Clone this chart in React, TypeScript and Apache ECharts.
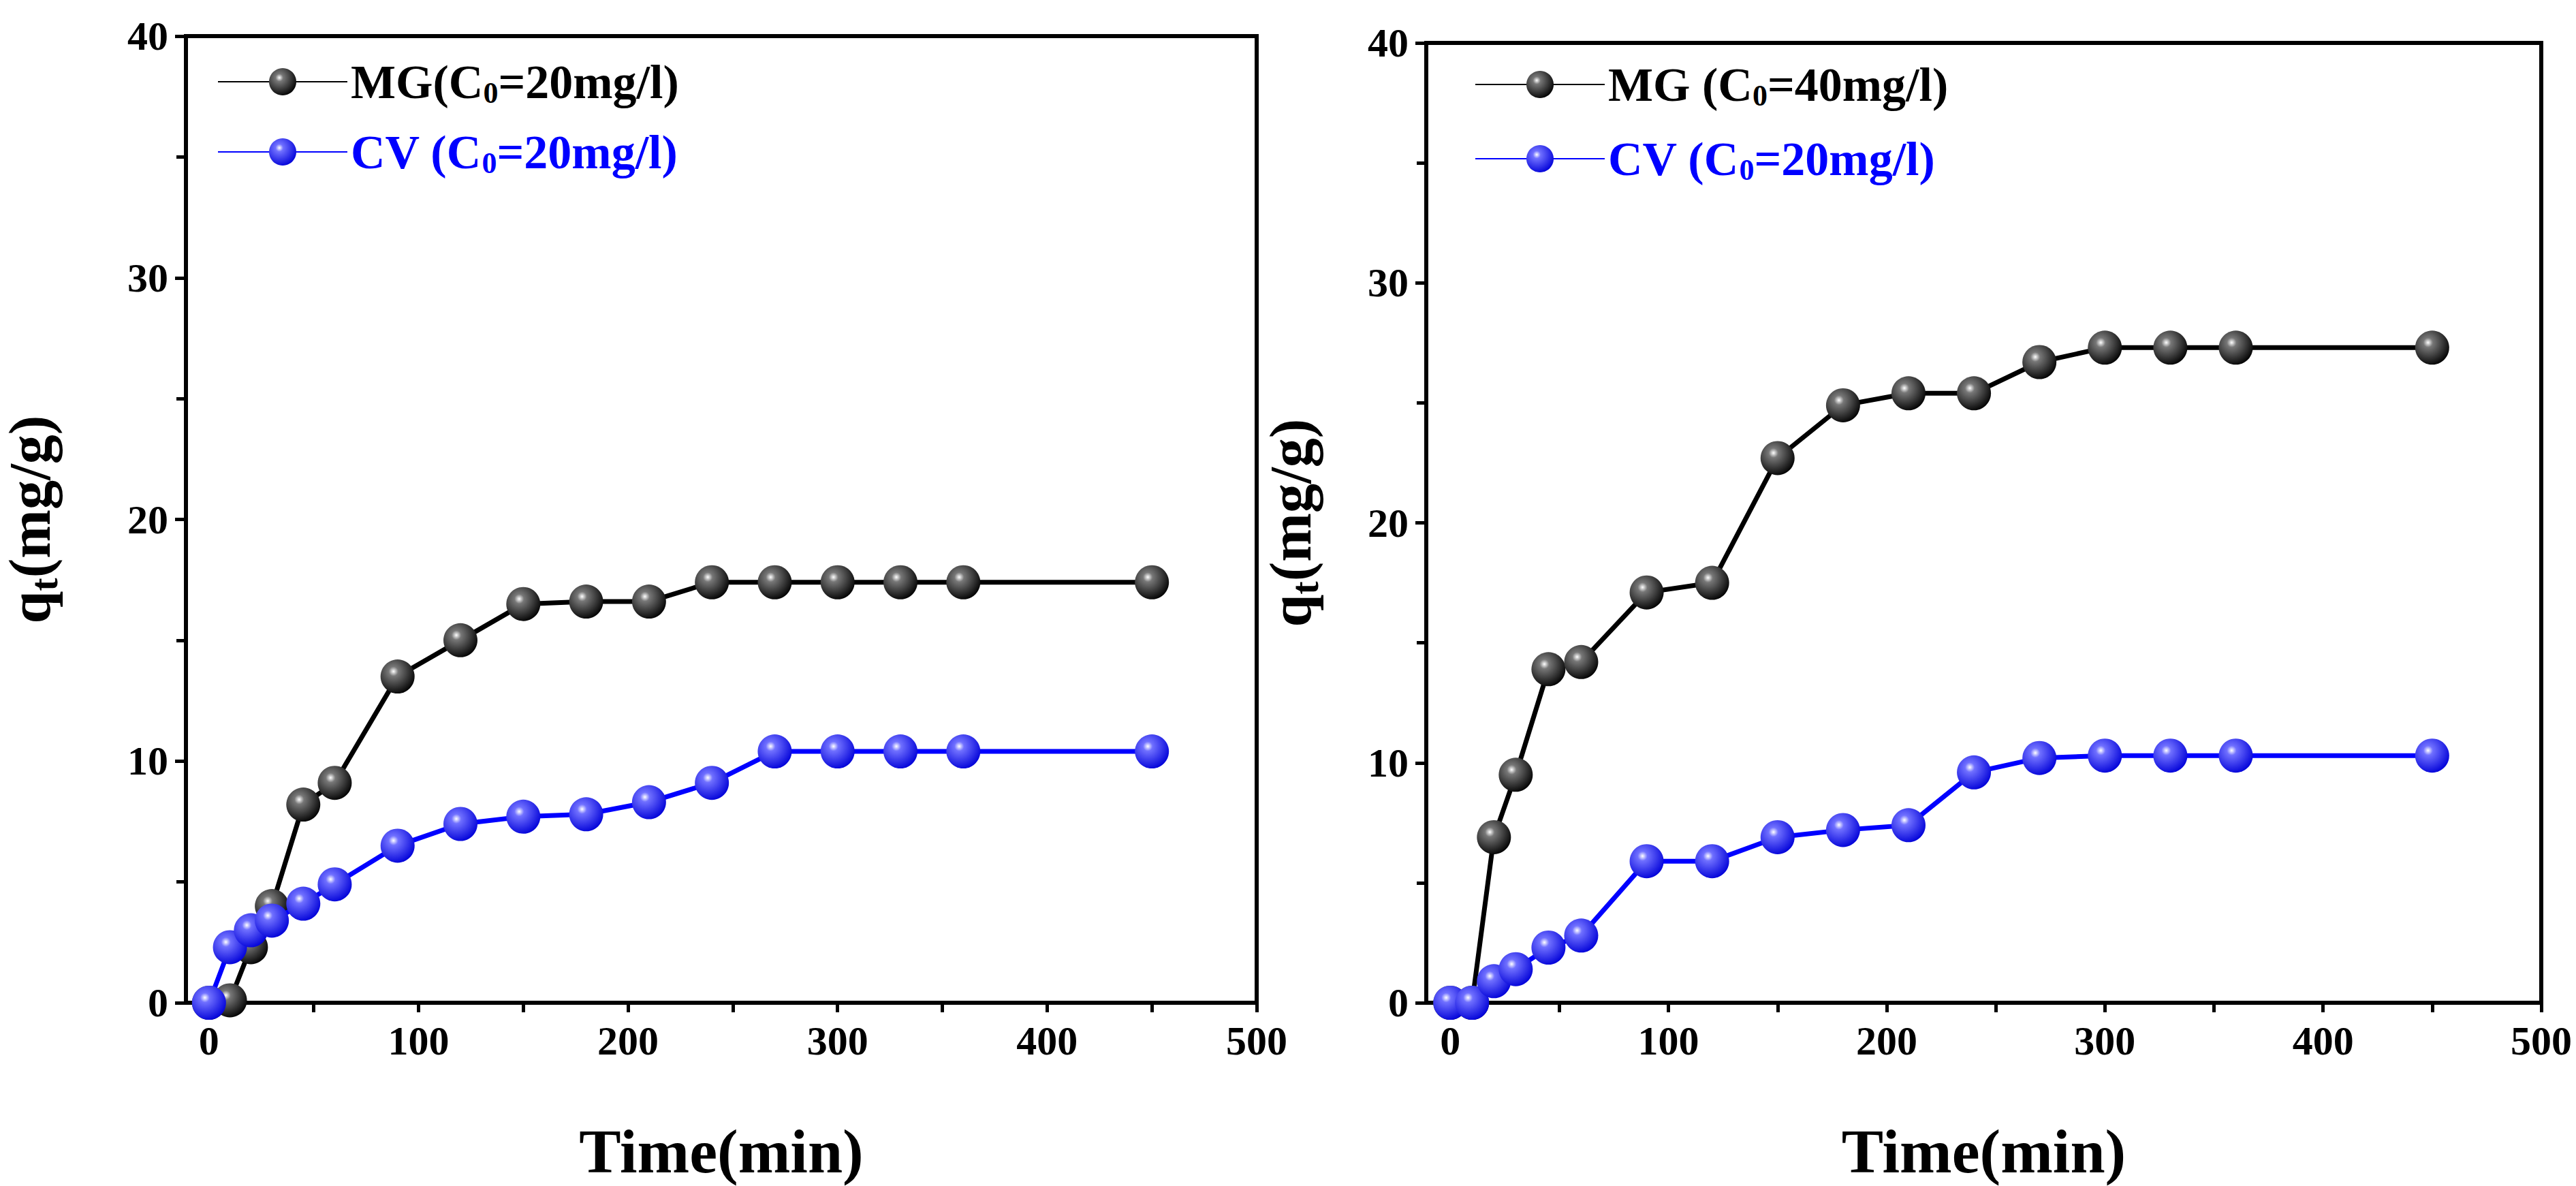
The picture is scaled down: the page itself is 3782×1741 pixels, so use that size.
import React, { useEffect, useRef } from 'react';
import * as echarts from 'echarts';

const timeMin = [0, 10, 20, 30, 45, 60, 90, 120, 150, 180, 210, 240, 270, 300, 330, 360, 450];
const mg20 = [0, 0.1, 2.3, 4.0, 8.2, 9.1, 13.5, 15.0, 16.5, 16.6, 16.6, 17.4, 17.4, 17.4, 17.4, 17.4, 17.4];
const cv20a = [0, 2.3, 3.0, 3.4, 4.1, 4.9, 6.5, 7.4, 7.7, 7.8, 8.3, 9.1, 10.4, 10.4, 10.4, 10.4, 10.4];
const mg40 = [0, 0, 6.9, 9.5, 13.9, 14.2, 17.1, 17.5, 22.7, 24.9, 25.4, 25.4, 26.7, 27.3, 27.3, 27.3, 27.3];
const cv20b = [0, 0, 0.9, 1.4, 2.3, 2.8, 5.9, 5.9, 6.9, 7.2, 7.4, 9.6, 10.2, 10.3, 10.3, 10.3, 10.3];
const xLabels = [0, 100, 200, 300, 400, 500];
const xTicks = [0, 50, 100, 150, 200, 250, 300, 350, 400, 450, 500];
const legendLeft = ['MG(C{s|0}=20mg/l)', 'CV (C{s|0}=20mg/l)'];
const legendRight = ['MG (C{s|0}=40mg/l)', 'CV (C{s|0}=20mg/l)'];

const FONT = '"Liberation Serif", "Times New Roman", serif';

const ball = (mid: string, dark: string) =>
  new echarts.graphic.RadialGradient(0.38, 0.35, 0.7, [
    { offset: 0, color: '#ffffff' },
    { offset: 0.2, color: mid },
    { offset: 1, color: dark },
  ]);

const pair = (xs: number[], ys: number[]) => xs.map((x, i) => [x, ys[i]]);

export default function App() {
  const ref = useRef<HTMLDivElement>(null);

  useEffect(() => {
    document.body.style.margin = '0';
    if (!ref.current) return;
    const chart = echarts.init(ref.current, null, { renderer: 'svg' });

    const grids = [
      { left: 266, right: 1937, top: 53, bottom: 248 },
      { left: 2094, right: 51, top: 63, bottom: 234 },
    ];
    const nameGaps = [180, 150];

    const xAxis = grids.map((_, i) => ({
      type: 'value' as const,
      gridIndex: i,
      min: -11,
      max: 500,
      name: 'Time(min)',
      nameLocation: 'middle' as const,
      nameGap: 172,
      nameTextStyle: { fontFamily: FONT, fontWeight: 'bold', fontSize: 92, color: '#000' },
      axisLine: { show: true, onZero: false, lineStyle: { color: '#000', width: 6 } },
      axisTick: { show: true, length: 14, customValues: xTicks, lineStyle: { width: 5, color: '#000' } },
      axisLabel: {
        fontFamily: FONT, fontWeight: 'bold', fontSize: 60, color: '#000', margin: 26,
        customValues: xLabels,
      },
      splitLine: { show: false },
    }));

    const yAxis = grids.map((_, i) => ({
      type: 'value' as const,
      gridIndex: i,
      min: 0,
      max: 40,
      interval: 10,
      name: '{q|q}{t|t}{q|(mg/g)}',
      nameLocation: 'middle' as const,
      nameGap: nameGaps[i],
      nameTextStyle: {
        rich: {
          q: { fontFamily: FONT, fontWeight: 'bold', fontSize: 86, color: '#000' },
          t: { fontFamily: FONT, fontWeight: 'bold', fontSize: 58, color: '#000', padding: [40, 0, 0, 0] },
        },
      },
      axisLine: { show: true, onZero: false, lineStyle: { color: '#000', width: 6 } },
      axisTick: { show: true, length: 16, lineStyle: { width: 5, color: '#000' } },
      minorTick: { show: true, splitNumber: 2, length: 14, lineStyle: { width: 5, color: '#000' } },
      axisLabel: { fontFamily: FONT, fontWeight: 'bold', fontSize: 60, color: '#000', margin: 26 },
      splitLine: { show: false },
    }));

    const mkSeries = (name: string, i: number, data: number[], color: string, mid: string, dark: string) => ({
      name,
      type: 'line' as const,
      xAxisIndex: i,
      yAxisIndex: i,
      data: pair(timeMin, data),
      symbol: 'circle',
      symbolSize: 50,
      lineStyle: { color, width: 7 },
      itemStyle: { color: ball(mid, dark), borderWidth: 0 },
      z: color === '#0000ff' ? 3 : 2,
    });

    const legendText = (color: string) => ({
      fontFamily: FONT,
      fontWeight: 'bold' as const,
      fontSize: 70,
      color,
      rich: {
        s: { fontFamily: FONT, fontWeight: 'bold', fontSize: 44, color, padding: [32, 0, 0, 0] },
      },
    });

    chart.setOption({
      animation: false,
      backgroundColor: '#fff',
      grid: grids.map((g) => ({ ...g, show: true, borderColor: '#000', borderWidth: 6 })),
      xAxis,
      yAxis,
      legend: [
        {
          left: 314, top: 80, orient: 'vertical', itemGap: 30, itemWidth: 190, itemHeight: 50,
          data: [
            { name: legendLeft[0], textStyle: legendText('#000') },
            { name: legendLeft[1], textStyle: legendText('#0000ff') },
          ],
        },
        {
          left: 2160, top: 84, orient: 'vertical', itemGap: 36, itemWidth: 190, itemHeight: 50,
          data: [
            { name: legendRight[0], textStyle: legendText('#000') },
            { name: legendRight[1], textStyle: legendText('#0000ff') },
          ],
        },
      ],
      series: [
        mkSeries(legendLeft[0], 0, mg20, '#000', '#777', '#000'),
        mkSeries(legendLeft[1], 0, cv20a, '#0000ff', '#7070ff', '#0000d8'),
        mkSeries(legendRight[0], 1, mg40, '#000', '#777', '#000'),
        mkSeries(legendRight[1], 1, cv20b, '#0000ff', '#7070ff', '#0000d8'),
      ],
    });

    return () => chart.dispose();
  }, []);

  return <div ref={ref} style={{ position: 'absolute', left: 0, top: 0, width: 3782, height: 1741 }} />;
}
